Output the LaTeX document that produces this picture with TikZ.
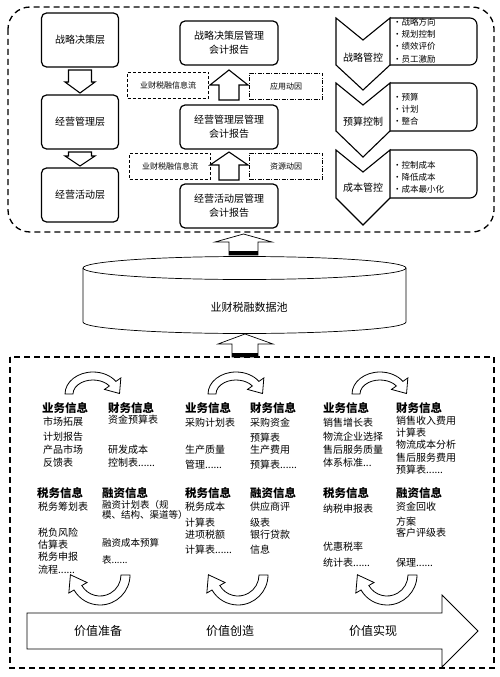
\documentclass[tikz,border=0pt]{standalone}
\usepackage{fontspec}
\setmainfont{Noto Sans CJK SC}
\usetikzlibrary{calc}

\tikzset{
  layer/.style={draw, line width=1.2pt, rounded corners=5pt, minimum width=77pt, minimum height=54pt, font=\fontsize{10}{12}\selectfont},
  report/.style={draw, line width=1.2pt, rounded corners=5pt, minimum width=98pt, minimum height=44pt, align=center, font=\fontsize{10}{14}\selectfont},
  flowbox/.style={draw, dash pattern=on 3pt off 2pt, minimum width=81pt, minimum height=26pt, font=\fontsize{8}{10}\selectfont},
  causebox/.style={draw, dash pattern=on 4pt off 1.5pt on 1pt off 1.5pt, minimum width=73pt, minimum height=26pt, font=\fontsize{8}{10}\selectfont},
  hollow/.style={line width=1.1pt, fill=white},
  chev/.style={line width=1.1pt, fill=white},
  ctl/.style={font=\fontsize{10}{12}\selectfont},
  bullets/.style={align=left, anchor=west, inner sep=0pt, font=\fontsize{8.5}{12.2}\selectfont},
  head/.style={anchor=west, inner sep=0pt, font=\bfseries\fontsize{11.5}{13}\selectfont},
  info/.style={anchor=north west, inner sep=0pt, align=left, font=\fontsize{10}{12}\selectfont},
  stage/.style={font=\fontsize{12}{14}\selectfont},
}

\begin{document}
\begin{tikzpicture}[x=1pt, y=1pt]
	\useasboundingbox (0,0) rectangle (500,-677);

	% Draw the upper dashed frame
	\draw[line width=1.3pt, dash pattern=on 6pt off 4pt, rounded corners=22pt] (8,-7) rectangle (494,-232);

	% Left column: the three layers
	\node[layer] (lay1) at (80,-40) {战略决策层};
	\node[layer] (lay2) at (80,-122) {经营管理层};
	\node[layer] (lay3) at (80,-195) {经营活动层};

	\draw[hollow] (68.5,-70) -- (91.5,-70) -- (91.5,-82) -- (95,-82) -- (80,-93) -- (65,-82) -- (68.5,-82) -- cycle;
	\draw[hollow] (68.5,-152) -- (91.5,-152) -- (91.5,-156) -- (95,-156) -- (80,-166) -- (65,-156) -- (68.5,-156) -- cycle;

	% Middle column: the reports
	\node[report] (rep1) at (229,-43) {战略决策层管理\\会计报告};
	\node[report] (rep2) at (229,-127) {经营管理层管理\\会计报告};
	\node[report] (rep3) at (229,-206) {经营活动层管理\\会计报告};

	\node[flowbox] (flow1) at (168,-85) {业财税融信息流};
	\node[causebox] (cause1) at (286,-86) {应用动因};
	\node[flowbox] (flow2) at (170,-166) {业财税融信息流};
	\node[causebox] (cause2) at (286,-166) {资源动因};

	\draw[hollow] (219,-100) -- (219,-85) -- (210,-85) -- (229,-70) -- (248,-85) -- (239,-85) -- (239,-100) -- cycle;
	\draw[hollow] (219,-180) -- (219,-165) -- (210,-165) -- (229,-152) -- (248,-165) -- (239,-165) -- (239,-180) -- cycle;

	% Right column: chevrons and their lists
	\draw[line width=1.1pt, rounded corners=7pt] (390,-18) -- (477,-18) -- (477,-65) -- (390,-65);
	\draw[line width=1.1pt, rounded corners=7pt] (390,-83) -- (477,-83) -- (477,-131) -- (390,-131);
	\draw[line width=1.1pt, rounded corners=7pt] (390,-150) -- (477,-150) -- (477,-198) -- (390,-198);

	\draw[chev] (336,-18) -- (363,-40) -- (390,-18) -- (390,-65) -- (363,-90) -- (336,-65) -- cycle;
	\draw[chev] (336,-83) -- (363,-105) -- (390,-83) -- (390,-131) -- (363,-157) -- (336,-131) -- cycle;
	\draw[chev] (336,-150) -- (363,-172) -- (390,-150) -- (390,-198) -- (363,-225) -- (336,-198) -- cycle;

	\node[ctl] (ctl1) at (363,-58) {战略管控};
	\node[ctl] (ctl2) at (363,-122) {预算控制};
	\node[ctl] (ctl3) at (363,-188) {成本管控};

	\node[bullets] (list1) at (393,-40.5) {•战略方向\\•规划控制\\•绩效评价\\•员工激励};
	\node[bullets] (list2) at (393,-109) {•预算\\•计划\\•整合};
	\node[bullets] (list3) at (393,-177) {•控制成本\\•降低成本\\•成本最小化};

	% The data pool
	\draw[line width=0.7pt, fill=white] (83,-268) -- (83,-322) arc[start angle=180, end angle=360, x radius=161.5, y radius=11.5] -- (406,-268);
	\draw[line width=0.7pt] (244.5,-268) ellipse [x radius=161.5, y radius=11.5];
	\node[font=\fontsize{11}{13}\selectfont] (pool) at (249,-307) {业财税融数据池};

	\draw[line width=0.7pt, fill=white] (229,-255) -- (229,-242) -- (215,-242) -- (243.5,-234) -- (272,-242) -- (258,-242) -- (258,-255) -- cycle;
	\fill (229,-251) rectangle (258,-255);
	\draw[line width=0.7pt, fill=white] (232,-357) -- (232,-344) -- (218,-344) -- (245,-334) -- (273,-344) -- (258,-344) -- (258,-357) -- cycle;
	\fill (232,-353) rectangle (258,-357);

	% Draw the lower dashed frame
	\draw[line width=1.3pt, dash pattern=on 6pt off 4pt] (10,-357) rectangle (494,-668);

	% Turning arrows above and below each group
	\foreach \cx in {93,236,380} {
		\draw[line width=0.8pt, fill=white] ($(\cx,-394)+(180:28 and 22)$) arc[start angle=180, end angle=35, x radius=28, y radius=22]
			-- ($(\cx,-394)+(35:34 and 28)$) -- ($(\cx,-394)+(35:24 and 18)+(-55:12)$) -- ($(\cx,-394)+(35:14 and 8)$)
			-- ($(\cx,-394)+(35:20 and 14)$) arc[start angle=35, end angle=180, x radius=20, y radius=14] -- cycle;
	}
	\foreach \cx in {100,238,387} {
		\draw[line width=0.8pt, fill=white] ($(\cx,-575)+(0:30)$) arc[start angle=0, end angle=-150, radius=30]
			-- ($(\cx,-575)+(-150:36)$) -- ($(\cx,-575)+(-150:25.5)+(120:15)$) -- ($(\cx,-575)+(-150:15)$)
			-- ($(\cx,-575)+(-150:21)$) arc[start angle=-150, end angle=0, radius=21] -- cycle;
	}

	% Group one: value preparation
	\node[head] (biz1) at (42,-408) {业务信息};
	\node[head] (fin1) at (108,-408) {财务信息};
	\node[head] (tax1) at (37,-493) {税务信息};
	\node[head] (cap1) at (102,-493) {融资信息};
	\node[info] (biz1t) at (43,-417) {市场拓展\\[3pt]计划报告\\[1pt]产品市场\\[1pt]反馈表};
	\node[info] (fin1t) at (108,-415) {资金预算表\\[18pt]研发成本\\[1pt]控制表......};
	\node[info] (tax1t) at (38,-502) {税务筹划表\\[14pt]税负风险\\估算表\\税务申报\\[1pt]流程......};
	\node[info, font=\fontsize{9.5}{10}\selectfont] (cap1t) at (102,-500) {融资计划表（规\\模、结构、渠道等）\\[18pt]融资成本预算\\[7pt]表......};

	% Group two: value creation
	\node[head] (biz2) at (185,-408) {业务信息};
	\node[head] (fin2) at (250,-408) {财务信息};
	\node[head] (tax2) at (185,-493) {税务信息};
	\node[head] (cap2) at (250,-493) {融资信息};
	\node[info] (biz2t) at (185,-418) {采购计划表\\[15pt]生产质量\\[3pt]管理......};
	\node[info] (fin2t) at (250,-418) {采购资金\\[3pt]预算表\\生产费用\\[3pt]预算表......};
	\node[info] (tax2t) at (185,-502) {税务成本\\[4pt]计算表\\进项税额\\[3pt]计算表......};
	\node[info] (cap2t) at (250,-502) {供应商评\\[4pt]级表\\银行贷款\\[3pt]信息};

	% Group three: value realisation
	\node[head] (biz3) at (323,-408) {业务信息};
	\node[head] (fin3) at (396,-408) {财务信息};
	\node[head] (tax3) at (323,-493) {税务信息};
	\node[head] (cap3) at (396,-493) {融资信息};
	\node[info] (biz3t) at (323,-418) {销售增长表\\[2pt]物流企业选择\\[1pt]售后服务质量\\[1pt]体系标准...};
	\node[info] (fin3t) at (396,-416) {销售收入费用\\计算表\\物流成本分析\\[1pt]售后服务费用\\预算表......};
	\node[info] (tax3t) at (323,-504) {纳税申报表\\[26pt]优惠税率\\[4pt]统计表......};
	\node[info] (cap3t) at (396,-502) {资金回收\\[3pt]方案\\[-1pt]客户评级表\\[18pt]保理......};

	% Draw the value chain arrow
	\draw[line width=0.8pt, fill=white] (27,-613) -- (442,-613) -- (442,-595) -- (478,-631) -- (442,-667) -- (442,-649) -- (27,-649) -- cycle;
	\node[stage] (stage1) at (98,-631) {价值准备};
	\node[stage] (stage2) at (230,-631) {价值创造};
	\node[stage] (stage3) at (373,-631) {价值实现};

\end{tikzpicture}
\end{document}
